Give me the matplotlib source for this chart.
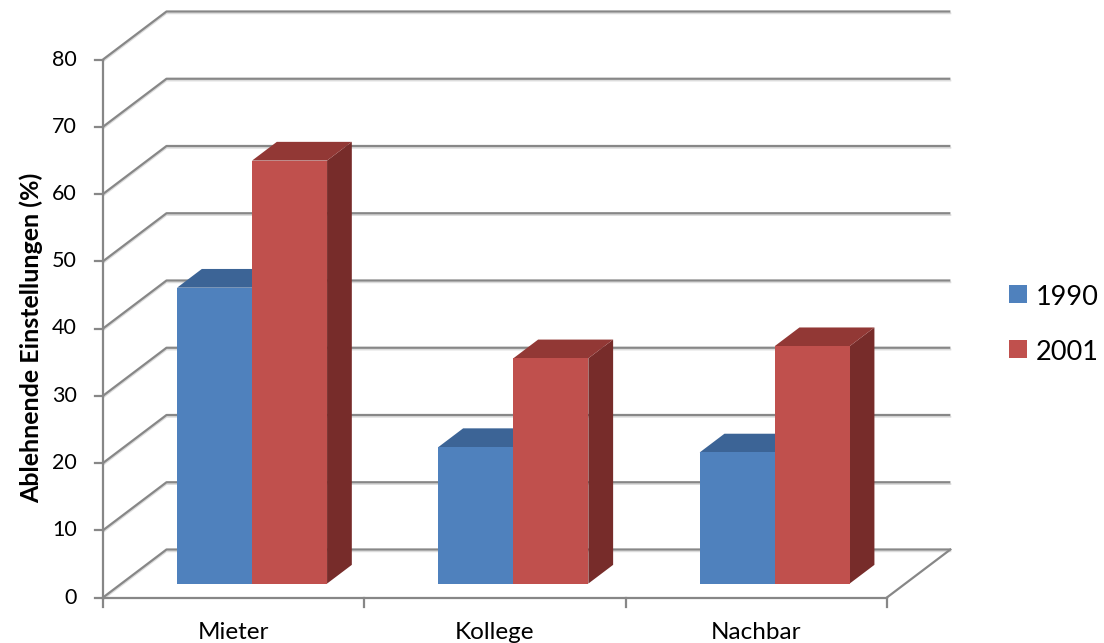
import numpy as np
import matplotlib.pyplot as plt
from matplotlib.patches import Polygon, Rectangle

plt.rcParams['font.family'] = ['Lato', 'DejaVu Sans']

# Daten
kategorien = ['Mieter', 'Kollege', 'Nachbar']
jahre = ['1990', '2001']
werte_1990 = [44.0, 20.3, 19.5]
werte_2001 = [62.9, 33.5, 35.3]
y_ticks = [0, 10, 20, 30, 40, 50, 60, 70, 80]
y_titel = 'Ablehnende Einstellungen (%)'

farbe_front = ['#4F81BD', '#C0504D']
farbe_oben = ['#3C6496', '#923835']
farbe_seite = ['#3A5F8C', '#772C2A']
grau = '#878787'

# Geometrie in Pixeln (Bild 1104x643)
W, H = 1104, 643
px_x0, px_y0 = 103, 597.5      # Ursprung der Frontebene
px_kat = 261.3                  # Pixel pro Kategorie
px_wert = 6.725                 # Pixel pro Prozentpunkt
tiefe_x = 63.5 / px_kat         # Verschiebung der Rückwand
tiefe_y = 48.0 / px_wert

fig = plt.figure(figsize=(W / 100, H / 100), dpi=100)
ax = fig.add_axes([0, 0, 1, 1])
ax.set_xlim(-px_x0 / px_kat, (W - px_x0) / px_kat)
ax.set_ylim(-(H - px_y0) / px_wert, px_y0 / px_wert)
ax.axis('off')


def proj(x, v, d):
    # Punkt (x, Wert) in der Tiefe d (0 = vorne, 1 = Rückwand)
    return (x + d * tiefe_x, v + d * tiefe_y)


n = len(kategorien)

# Gitterlinien an Seitenwand und Rückwand
for v in y_ticks:
    xs = [0, tiefe_x, n + tiefe_x]
    ys = [v, v + tiefe_y, v + tiefe_y]
    ax.plot(xs, [y - 1.8 / px_wert for y in ys], color='#DCDCDC', lw=1.3, zorder=1)
    ax.plot(xs, ys, color=grau, lw=1.6, zorder=2, solid_capstyle='butt')

# Boden rechts und Achsen
ax.plot([n, n + tiefe_x], [0, tiefe_y], color=grau, lw=1.6, zorder=2)
ax.plot([0, n], [0, 0], color=grau, lw=1.6, zorder=2)
ax.plot([0, 0], [0, y_ticks[-1]], color=grau, lw=1.6, zorder=2)
for v in y_ticks:
    ax.plot([-8 / px_kat, 0], [v, v], color=grau, lw=1.6, zorder=2)
    ax.text(-26 / px_kat, v, str(v), ha='right', va='center', fontsize=15.5)
for k in range(n + 1):
    ax.plot([k, k], [0, -9 / px_wert], color=grau, lw=1.6, zorder=2)

# Säulen
breite = 0.287
start = 0.213
d0, d1 = 0.29, 0.68
z = 3
for i in range(n):
    for j, werte in enumerate([werte_1990, werte_2001]):
        x = i + start + j * breite
        v = werte[i]
        seite = [proj(x + breite, 0, d0), proj(x + breite, 0, d1),
                 proj(x + breite, v, d1), proj(x + breite, v, d0)]
        oben = [proj(x, v, d0), proj(x + breite, v, d0),
                proj(x + breite, v, d1), proj(x, v, d1)]
        front = [proj(x, 0, d0), proj(x + breite, 0, d0),
                 proj(x + breite, v, d0), proj(x, v, d0)]
        ax.add_patch(Polygon(seite, closed=True, fc=farbe_seite[j], ec='none', zorder=z))
        ax.add_patch(Polygon(oben, closed=True, fc=farbe_oben[j], ec='none', zorder=z + 1))
        ax.add_patch(Polygon(front, closed=True, fc=farbe_front[j], ec='none', zorder=z + 2))
        z += 3

# Kategorienbeschriftung
for i, k in enumerate(kategorien):
    ax.text(i + 0.5, (px_y0 - 639) / px_wert, k, ha='center', va='baseline', fontsize=17.5)

# Achsentitel
ax.text((31 - px_x0) / px_kat, 38.6, y_titel, rotation=90, ha='center', va='center',
        fontsize=18, fontweight='bold')

# Legende
leg_y = [303, 358]
for j, jahr in enumerate(jahre):
    fig.patches.append(Rectangle((1009 / W, 1 - leg_y[j] / H), 18 / W, 18 / H,
                                 transform=fig.transFigure, fc=farbe_front[j], ec='none'))
    fig.text(1036 / W, 1 - (leg_y[j] + 2) / H, jahr, ha='left', va='baseline', fontsize=19.5)

fig.savefig('out.png', dpi=100)
